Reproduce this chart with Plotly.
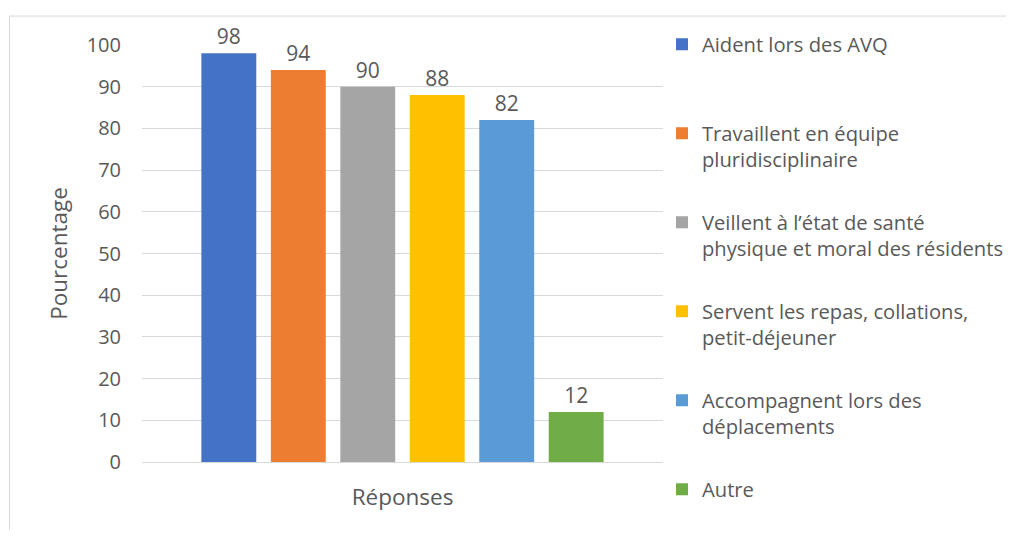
import plotly.graph_objects as go

categories = ["Réponses"]
series_names = [
    "Aident lors des AVQ<br> ",
    "Travaillent en équipe<br>pluridisciplinaire",
    "Veillent à l’état de santé<br>physique et moral des résidents",
    "Servent les repas, collations,<br>petit-déjeuner",
    "Accompagnent lors des<br>déplacements",
    "Autre<br> ",
]
values = [98, 94, 90, 88, 82, 12]
value_labels = ["98", "94", "90", "88", "82", "12"]
colors = ["#4472C4", "#ED7D31", "#A5A5A5", "#FFC000", "#5B9BD5", "#70AD47"]
y_ticks = [0, 10, 20, 30, 40, 50, 60, 70, 80, 90, 100]

FONT = "Open Sans"
TXT = "#595959"

OFF = 8  # default page body margin
W, H = 1014 - 2 * OFF, 538 - 2 * OFF
# target plot area in window pixels
PL, PR, PT, PB = 142, 663, 44.5, 462.5
L, T = PL - OFF, PT - OFF
R = W - (PR - OFF)
B = H - (PB - OFF)
pw, ph = W - L - R, H - T - B

def px_x(p):
    return (p - OFF - L) / pw

def px_y(p):
    return (H - B - (p - OFF)) / ph

fig = go.Figure()
for i, (name, v, lab, c) in enumerate(zip(series_names, values, value_labels, colors)):
    fig.add_trace(go.Bar(
        x=categories, y=[v], name=name, marker=dict(color=c, line=dict(width=0)),
        text=[lab], textposition="outside", cliponaxis=False,
        textfont=dict(family=FONT, size=21, color=TXT),
        legendgroup=f"g{i}",
    ))

fig.update_layout(
    width=W, height=H,
    margin=dict(l=L, r=R, t=T, b=B, autoexpand=False),
    paper_bgcolor="white", plot_bgcolor="white",
    barmode="group", bargap=0.20, bargroupgap=0.21,
    font=dict(family=FONT, size=20, color=TXT),
    showlegend=True,
    legend=dict(
        x=px_x(662), xanchor="left", y=px_y(24), yanchor="top",
        font=dict(family=FONT, size=20.2, color=TXT),
        valign="top", tracegroupgap=33.5, bgcolor="rgba(0,0,0,0)",
        maxheight=1000,
    ),
)
fig.update_yaxes(
    range=[0, 100], tickvals=y_ticks, ticktext=[str(t) for t in y_ticks],
    showgrid=True, gridcolor="#D9D9D9", gridwidth=1,
    zeroline=True, zerolinecolor="#D9D9D9", zerolinewidth=1,
    showline=False, ticks="", ticklabelstandoff=20,
    tickfont=dict(family=FONT, size=20, color=TXT),
    title=dict(text="Pourcentage", standoff=12, font=dict(family=FONT, size=22.5, color=TXT)),
    automargin=False,
)
fig.update_xaxes(
    range=[-0.5, 0.5],
    showgrid=False, showline=False, zeroline=False, ticks="",
    tickfont=dict(family=FONT, size=22.5, color=TXT), ticklabelstandoff=19,
    automargin=False,
)
fig.add_shape(
    type="rect", xref="paper", yref="paper",
    x0=px_x(9.5), x1=px_x(1030), y0=px_y(560), y1=px_y(15.5),
    line=dict(color="#D9D9D9", width=1), fillcolor="rgba(0,0,0,0)", layer="below",
)

fig.write_html("out.html")
